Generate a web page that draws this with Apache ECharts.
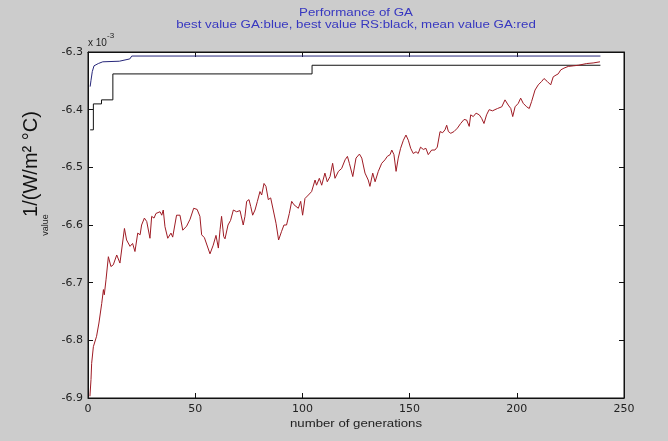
<!DOCTYPE html>
<html>
<head>
<meta charset="utf-8">
<script src="https://cdn.jsdelivr.net/npm/echarts@6/dist/echarts.min.js"></script>
<style>
html,body{margin:0;padding:0;background:#cccccc;}
#c{width:668px;height:441px;}
</style>
</head>
<body>
<div id="c"></div>
<script>
// Values in units of 1e-3
var xTicks = [0, 50, 100, 150, 200, 250];
var yTicks = [-6.9, -6.8, -6.7, -6.6, -6.5, -6.4, -6.3];

// best value GA (blue): [generation, value]
var bestGA = [[1,-6.360],[1.4,-6.349],[2,-6.334],[2.8,-6.324],[4.8,-6.320],[6.9,-6.317],[14.6,-6.316],[15.5,-6.314],[19.5,-6.312],[20.4,-6.307],[239,-6.307]];

// best value RS (black), step changes: [generation, value]
var bestRS = [[1,-6.435],[2.5,-6.390],[6.3,-6.383],[11.6,-6.338],[104.5,-6.323],[239,-6.323]];

// mean value GA (red): [generation, value]
var meanGA = [[0.9,-6.897],[1.4,-6.868],[1.7,-6.840],[2.5,-6.811],[4,-6.793],[5.1,-6.770],[6.4,-6.736],[7.2,-6.712],[7.6,-6.721],[8.4,-6.695],[9.5,-6.655],[10.7,-6.672],[11.8,-6.669],[13.4,-6.652],[14.9,-6.666],[15.7,-6.669],[17,-6.606],[18,-6.626],[19.6,-6.637],[20.8,-6.632],[21.9,-6.646],[23.2,-6.614],[24.3,-6.617],[25,-6.600],[26.3,-6.588],[27.4,-6.594],[28.9,-6.623],[29.7,-6.585],[30.8,-6.588],[31.7,-6.580],[32.5,-6.583],[33.6,-6.577],[34.4,-6.583],[35.1,-6.574],[35.9,-6.603],[37.2,-6.623],[38.7,-6.614],[39.5,-6.621],[41.3,-6.583],[42.9,-6.583],[44.2,-6.609],[46,-6.602],[47.6,-6.590],[49.3,-6.571],[50.9,-6.573],[52.2,-6.585],[53,-6.617],[54.3,-6.622],[55.2,-6.620],[56.9,-6.650],[58.4,-6.635],[59.7,-6.618],[60.8,-6.640],[61.6,-6.608],[62.3,-6.585],[63.3,-6.620],[63.9,-6.624],[65.3,-6.600],[66.5,-6.592],[67.8,-6.574],[69.3,-6.577],[70.9,-6.575],[72.4,-6.600],[73.2,-6.585],[74,-6.559],[75.1,-6.556],[75.9,-6.568],[76.8,-6.583],[77.9,-6.574],[79,-6.559],[80.2,-6.542],[81,-6.548],[82.1,-6.528],[83,-6.533],[84.1,-6.556],[85.2,-6.553],[86.4,-6.574],[87.7,-6.597],[88.9,-6.626],[90.3,-6.611],[91.4,-6.600],[92.6,-6.600],[93.9,-6.580],[95,-6.559],[96.1,-6.565],[97,-6.562],[98.1,-6.571],[99.2,-6.559],[100.1,-6.583],[101.2,-6.554],[102.8,-6.548],[104.3,-6.542],[105.9,-6.522],[106.6,-6.531],[107.9,-6.519],[109,-6.531],[110.5,-6.510],[111.6,-6.525],[112.9,-6.516],[114.1,-6.493],[115.2,-6.519],[116.8,-6.507],[118.3,-6.502],[119.9,-6.487],[121,-6.481],[121.9,-6.493],[123.5,-6.516],[125,-6.484],[126.6,-6.477],[127.7,-6.484],[129.2,-6.510],[130.7,-6.522],[131.5,-6.533],[132.8,-6.510],[133.9,-6.525],[135.4,-6.507],[137,-6.493],[138.5,-6.487],[139.6,-6.481],[140.9,-6.478],[141.7,-6.470],[142.7,-6.478],[143.7,-6.507],[144.7,-6.484],[145.8,-6.467],[147.1,-6.453],[148.3,-6.444],[149.4,-6.453],[150.5,-6.467],[151.7,-6.476],[153,-6.473],[154,-6.476],[155.1,-6.465],[156.4,-6.469],[157.6,-6.467],[158.7,-6.478],[160.3,-6.470],[161.8,-6.470],[162.9,-6.465],[164.2,-6.438],[165.4,-6.440],[166.5,-6.435],[167.3,-6.427],[168.1,-6.438],[169.2,-6.441],[170.7,-6.438],[172.3,-6.432],[173.8,-6.424],[175.4,-6.417],[176.6,-6.418],[177.8,-6.429],[178.5,-6.409],[179.7,-6.412],[181,-6.406],[182.5,-6.409],[183.6,-6.415],[184.7,-6.424],[185.9,-6.409],[187.1,-6.400],[188.7,-6.402],[189.8,-6.400],[191,-6.398],[193,-6.395],[194.5,-6.383],[196,-6.392],[197.2,-6.398],[198.1,-6.412],[199.2,-6.395],[200.7,-6.389],[201.8,-6.380],[203,-6.389],[204.6,-6.395],[205.8,-6.398],[206.9,-6.386],[208.5,-6.366],[210,-6.357],[211.6,-6.351],[212.7,-6.346],[214.2,-6.351],[215.8,-6.357],[217,-6.343],[218.3,-6.340],[219.3,-6.338],[220.5,-6.331],[222,-6.328],[224,-6.325],[226.4,-6.324],[228.7,-6.323],[232.6,-6.320],[235.6,-6.319],[238.8,-6.317]];

var FONT = 'Liberation Sans, Arial, sans-serif';
var TICKFONT = 'DejaVu Sans, sans-serif';
var chart = echarts.init(document.getElementById('c'), null, {renderer: 'canvas'});

function xAxisCfg(top) {
  return {
    type: 'value', min: xTicks[0], max: xTicks[xTicks.length - 1], interval: 50,
    position: top ? 'top' : 'bottom',
    axisLine: {show: true, onZero: false, lineStyle: {color: '#111', width: 1}},
    axisTick: {show: true, inside: true, length: 5, lineStyle: {color: '#111'}},
    axisLabel: {show: !top, margin: 6, color: '#222', fontSize: 11, fontFamily: TICKFONT},
    splitLine: {show: false}
  };
}
function yAxisCfg(right) {
  return {
    type: 'value', min: yTicks[0], max: yTicks[yTicks.length - 1], interval: 0.1,
    position: right ? 'right' : 'left',
    axisLine: {show: true, onZero: false, lineStyle: {color: '#111', width: 1}},
    axisTick: {show: true, inside: true, length: 5, lineStyle: {color: '#111'}},
    axisLabel: {show: !right, margin: 5, color: '#222', fontSize: 11, fontFamily: TICKFONT,
      formatter: function (v) { return v.toFixed(1); }},
    splitLine: {show: false}
  };
}

chart.setOption({
  animation: false,
  backgroundColor: '#cccccc',
  grid: {left: 88, right: 44, top: 52, bottom: 43, show: true, backgroundColor: '#ffffff', borderColor: '#111', borderWidth: 1},
  xAxis: [xAxisCfg(false), xAxisCfg(true)],
  yAxis: [yAxisCfg(false), yAxisCfg(true)],
  series: [
    {type: 'line', name: 'best value GA', data: bestGA, showSymbol: false, lineStyle: {color: '#27277a', width: 1}, z: 3},
    {type: 'line', name: 'best value RS', data: bestRS, step: 'end', showSymbol: false, lineStyle: {color: '#111111', width: 1}, z: 3},
    {type: 'line', name: 'mean value GA', data: meanGA, showSymbol: false, lineStyle: {color: '#9e1b24', width: 1}, z: 4}
  ],
  graphic: [
    {type: 'text', x: 356, y: 7, scaleX: 1.21, scaleY: 1, style: {text: 'Performance of GA\nbest value GA:blue, best value RS:black, mean value GA:red', fill: '#3737c0', font: '11px ' + FONT, align: 'center', verticalAlign: 'top', lineHeight: 12}, silent: true, z: 10},
    {type: 'text', x: 356, y: 424, scaleX: 1.2, scaleY: 1, style: {text: 'number of generations', fill: '#222', font: '11px ' + FONT, align: 'center', verticalAlign: 'middle'}, silent: true, z: 10},
    {type: 'text', x: 88, y: 43, style: {text: 'x 10', fill: '#222', font: '10px ' + FONT, align: 'left', verticalAlign: 'middle'}, silent: true},
    {type: 'text', x: 107, y: 36, style: {text: '-3', fill: '#222', font: '8px ' + FONT, align: 'left', verticalAlign: 'middle'}, silent: true},
    {type: 'text', x: 31, y: 164, rotation: Math.PI / 2, style: {text: '1/(W/m² °C)', fill: '#111', font: '20px ' + FONT, align: 'center', verticalAlign: 'middle'}, silent: true},
    {type: 'text', x: 46, y: 225, rotation: Math.PI / 2, style: {text: 'value', fill: '#222', font: '9px ' + FONT, align: 'center', verticalAlign: 'middle'}, silent: true}
  ]
});
</script>
</body>
</html>
